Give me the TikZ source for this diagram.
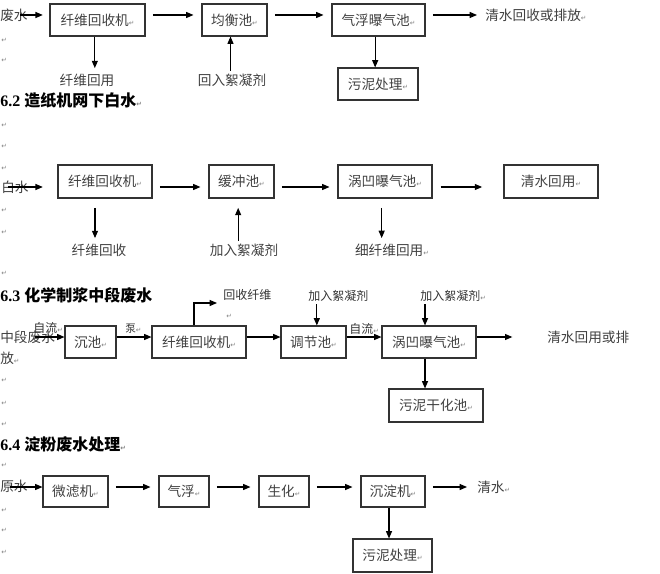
\documentclass[tikz,border=0pt]{standalone}
\usepackage{fontspec}
\setmainfont{Liberation Serif}
\newfontfamily\cjk{Noto Sans CJK SC}
\newfontfamily\symb{DejaVu Sans}
\usetikzlibrary{arrows.meta}
% paragraph mark after a text
\newcommand{\pmark}{{\symb\fontsize{5}{5}\selectfont\color{gray}↵}}

\begin{document}
\begin{tikzpicture}[x=0.75pt, y=-0.75pt,
    box/.style={draw=black!80, line width=0.8pt, inner sep=0pt, text=black!75,
        minimum height=24pt, font=\cjk\fontsize{10.25}{12}\selectfont},
    lbl/.style={inner sep=0pt, text=black!75, font=\cjk\fontsize{10.25}{12}\selectfont},
    small/.style={inner sep=0pt, text=black!80, font=\cjk\fontsize{9}{11}\selectfont},
    head/.style={inner sep=0pt, anchor=west, font=\bfseries\fontsize{12}{14}\selectfont},
    pm/.style={inner sep=0pt, anchor=west, text=gray, font=\symb\fontsize{5}{5}\selectfont},
    arr/.style={-{Triangle[length=5.5pt,width=4.5pt]}, line width=0.8pt},
    gapped/.style={shorten <=5.5pt, shorten >=6pt}]
    \useasboundingbox (0,0) rectangle (660,574);

    % First flow: 废水
    \coordinate (ra) at (0,15);
    \coordinate (sa) at (20,15);
    \node[lbl, anchor=west] (ina) at (0,15) {废水};
    \node[box, minimum width=71.25pt] (fa) at (97.5,20) {纤维回收机\pmark};
    \node[box, minimum width=48.75pt] (ja) at (234.5,20) {均衡池\pmark};
    \node[box, minimum width=69.75pt] (qa) at (378.5,20) {气浮曝气池\pmark};
    \node[lbl, anchor=west] (outa) at (485,15) {清水回收或排放\pmark};
    \node[lbl] (hya) at (87,80) {纤维回用};
    \node[lbl] (xna) at (232,80) {回入絮凝剂};
    \node[box, minimum width=60pt] (wa) at (378,84) {污泥处理\pmark};

    \draw[arr, shorten >=5pt] (sa) -- (fa.west |- ra);
    \draw[arr, gapped] (fa.east |- ra) -- (ja.west |- ra);
    \draw[arr, gapped] (ja.east |- ra) -- (qa.west |- ra);
    \draw[arr, gapped] (qa.east |- ra) -- (outa.west);
    \draw[arr, shorten >=4pt] ([xshift=-2pt]fa.south) -- ([xshift=-2pt]fa.south |- hya.north);
    \draw[arr, shorten <=2pt] ([xshift=-3pt]ja.south |- xna.north) -- ([xshift=-3pt]ja.south);
    \draw[arr] ([xshift=-2.5pt]qa.south) -- ([xshift=-2.5pt]qa.south |- wa.north);

    \node[pm] (p1) at (1,40) {↵};
    \node[pm] (p2) at (1,60) {↵};

    % 6.2 造纸机网下白水
    \node[head] (h62) at (0,100) {6.2 {\cjk 造纸机网下白水}\pmark};
    \node[pm] (p3) at (1,125) {↵};
    \node[pm] (p4) at (1,146) {↵};
    \node[pm] (p5) at (1,168) {↵};
    \node[pm] (p6) at (1,210) {↵};
    \node[pm] (p7) at (1,232) {↵};
    \node[pm] (p8) at (1,273) {↵};

    \coordinate (rb) at (0,187);
    \coordinate (sb) at (8,187);
    \node[lbl, anchor=west] (inb) at (1,187) {白水};
    \node[box, minimum width=70.5pt, minimum height=24.75pt] (fb) at (105,181.5) {纤维回收机\pmark};
    \node[box, minimum width=48.75pt, minimum height=24.75pt] (cb) at (241.5,181.5) {缓冲池\pmark};
    \node[box, minimum width=70.5pt, minimum height=24.75pt] (wb) at (385,181.5) {涡凹曝气池\pmark};
    \node[box, minimum width=70.5pt, minimum height=24.75pt] (qb) at (551,181.5) {清水回用\pmark};
    \node[lbl] (hsb) at (99,250) {纤维回收};
    \node[lbl] (xnb) at (244,250) {加入絮凝剂};
    \node[lbl] (xwb) at (392,250) {细纤维回用\pmark};

    \draw[arr, shorten >=11pt] (sb) -- (fb.west |- rb);
    \draw[arr, gapped] (fb.east |- rb) -- (cb.west |- rb);
    \draw[arr, gapped] (cb.east |- rb) -- (wb.west |- rb);
    \draw[arr, shorten <=6pt, shorten >=16pt] (wb.east |- rb) -- (qb.west |- rb);
    \draw[arr, shorten <=7pt, shorten >=4pt] ([xshift=-7.5pt]fb.south) -- ([xshift=-7.5pt]fb.south |- hsb.north);
    \draw[arr, shorten <=2pt, shorten >=7pt] ([xshift=-2.5pt]cb.south |- xnb.north) -- ([xshift=-2.5pt]cb.south);
    \draw[arr, shorten <=7pt, shorten >=4pt] ([xshift=-2.5pt]wb.south) -- ([xshift=-2.5pt]wb.south |- xwb.north);

    % 6.3 化学制浆中段废水
    \node[head] (h63) at (0,295) {6.3 {\cjk 化学制浆中段废水}};
    \coordinate (rc) at (0,337);
    \coordinate (sc) at (35,337);
    \coordinate (tc1) at (0,303);
    \node[lbl, anchor=west] (inc) at (0,337) {中段废水};
    \node[lbl, anchor=west] (inc2) at (0,358) {放\pmark};
    \node[small, anchor=west] (zlc) at (33,328) {自流\pmark};
    \node[box, minimum width=38.25pt] (cc) at (90.5,342) {沉池\pmark};
    \node[small, anchor=west, font=\cjk\fontsize{8}{10}\selectfont] (bc) at (125,329) {泵\pmark};
    \node[box, minimum width=70.5pt] (fc) at (199,342) {纤维回收机\pmark};
    \node[small, anchor=west] (hsc) at (223,295) {回收纤维};
    \node[pm] (p9) at (226,316) {↵};
    \node[box, minimum width=48.75pt] (tc) at (313.5,342) {调节池\pmark};
    \node[small, anchor=west] (xnc) at (308,296) {加入絮凝剂};
    \node[small, anchor=west] (zlc2) at (349,329) {自流\pmark};
    \node[box, minimum width=70.5pt] (wc) at (429,342) {涡凹曝气池\pmark};
    \node[small, anchor=west] (xnc2) at (420,296) {加入絮凝剂\pmark};
    \node[lbl, anchor=west] (qc) at (547,337) {清水回用或排};
    \node[box, minimum width=70.5pt, minimum height=24.75pt] (gc) at (436,405.5) {污泥干化池\pmark};

    \draw[arr] (sc) -- (cc.west |- rc);
    \draw[arr] (cc.east |- rc) -- (fc.west |- rc);
    \draw[arr] (fc.east |- rc) -- (tc.west |- rc);
    \draw[arr] (tc.east |- rc) -- (wc.west |- rc);
    \draw[arr, shorten >=26pt] (wc.east |- rc) -- (qc.west);
    \draw[arr, shorten >=4.5pt] ([xshift=-3.75pt]fc.north) |- (hsc.west |- tc1);
    \draw[arr, shorten <=2pt] ([xshift=2.5pt]tc.north |- xnc.south) -- ([xshift=2.5pt]tc.north);
    \draw[arr, shorten <=2pt] ([xshift=-3pt]wc.north |- xnc2.south) -- ([xshift=-3pt]wc.north);
    \draw[arr] ([xshift=-3pt]wc.south) -- ([xshift=-3pt]wc.south |- gc.north);

    \node[pm] (p10) at (1,380) {↵};
    \node[pm] (p11) at (1,403) {↵};
    \node[pm] (p12) at (1,424) {↵};

    % 6.4 淀粉废水处理
    \node[head] (h64) at (0,444) {6.4 {\cjk 淀粉废水处理}\pmark};
    \node[pm] (p13) at (1,465) {↵};
    \node[pm] (p14) at (1,510) {↵};
    \node[pm] (p15) at (1,530) {↵};
    \node[pm] (p16) at (1,552) {↵};

    \coordinate (rd) at (0,487);
    \coordinate (sd) at (10,487);
    \node[lbl, anchor=west] (ind) at (0,486) {原水};
    \node[box, minimum width=48.75pt, minimum height=23.25pt] (md) at (75.5,491.5) {微滤机\pmark};
    \node[box, minimum width=37.5pt, minimum height=23.25pt] (qd) at (184,491.5) {气浮\pmark};
    \node[box, minimum width=37.5pt, minimum height=23.25pt] (shd) at (284,491.5) {生化\pmark};
    \node[box, minimum width=48pt, minimum height=23.25pt] (cd) at (393,491.5) {沉淀机\pmark};
    \node[lbl, anchor=west] (outd) at (477,487) {清水\pmark};
    \node[box, minimum width=59.25pt, minimum height=24.75pt] (wd) at (392.5,555.5) {污泥处理\pmark};

    \draw[arr] (sd) -- (md.west |- rd);
    \draw[arr, gapped] (md.east |- rd) -- (qd.west |- rd);
    \draw[arr, gapped] (qd.east |- rd) -- (shd.west |- rd);
    \draw[arr, gapped] (shd.east |- rd) -- (cd.west |- rd);
    \draw[arr, gapped, shorten >=7.5pt] (cd.east |- rd) -- (outd.west);
    \draw[arr] ([xshift=-3pt]cd.south) -- ([xshift=-3pt]cd.south |- wd.north);
\end{tikzpicture}
\end{document}
